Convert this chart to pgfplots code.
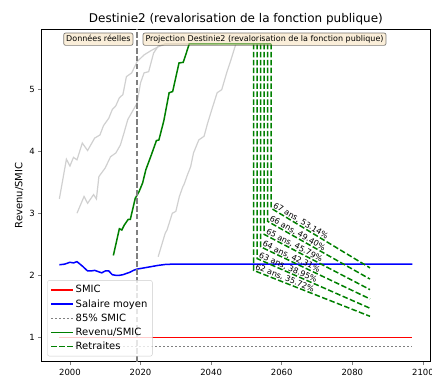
\documentclass[border=0pt]{standalone}
\usepackage{fontspec}
\setmainfont{DejaVu Sans}
\usepackage{pgfplots}
\pgfplotsset{compat=1.18}
\definecolor{wheat}{HTML}{F5DEB3}
\definecolor{mplgreen}{rgb}{0,0.5,0}
\definecolor{mplred}{rgb}{1,0,0}
\definecolor{mplblue}{rgb}{0,0,1}
\definecolor{lgrey}{HTML}{D0D0D0}
\definecolor{mplgrey}{HTML}{808080}
\newcommand{\ticksize}{\fontsize{8.5}{10}\selectfont}
\newcommand{\labsize}{\fontsize{10}{12}\selectfont}
\newcommand{\titlesize}{\fontsize{12}{14}\selectfont}
\newcommand{\annsize}{\fontsize{8}{9.6}\selectfont}
\tikzset{tbox/.style={font=\annsize, draw=black, draw opacity=0.5, fill=wheat, fill opacity=0.5,
  text opacity=1, rounded corners=2pt, line width=0.7pt, inner xsep=2.5pt, inner ysep=2.3pt,
  text height=6pt, text depth=1.8pt}}
\pgfplotsset{
  smicline/.style={draw=mplred, color=mplred, line width=1.5pt},
  salaire/.style={draw=mplblue, line width=1.5pt},
  pct/.style={draw=mplgrey, line width=1.5pt, dash pattern=on 1.5pt off 2.5pt},
  revenu/.style={draw=mplgreen, line width=1.5pt},
  retraite/.style={draw=mplgreen, line width=1.5pt, dash pattern=on 5.5pt off 2.4pt},
}
\begin{document}
\begin{tikzpicture}
\begin{axis}[
  scale only axis, width=388.3pt, height=332.7pt,
  xmin=1992, xmax=2102, ymin=0.609, ymax=5.967,
  xtick={2000,2020,...,2100}, ytick={1,2,3,4,5},
  xtick pos=bottom, ytick pos=left,
  tick align=outside, major tick length=3.5pt,
  tick style={line width=0.6pt}, axis line style={line width=0.6pt},
  /pgf/number format/assume math mode=true,
  /pgf/number format/1000 sep={},
  ticklabel style={font=\ticksize},
  title={Destinie2 (revalorisation de la fonction publique)},
  every axis title/.style={at={(0.5,1)}, anchor=base, yshift=6.3pt, font=\titlesize},
  ylabel={Revenu/SMIC},
  ylabel style={font=\labsize, at={(axis description cs:-0.058,0.5)}, anchor=center},
  clip mode=individual,
  legend cell align=left,
  legend image code/.code={\draw[#1] (0pt,0pt) -- (21.7pt,0pt);},
  legend style={at={(axis description cs:0.0144,0.016)}, anchor=south west,
    draw=black!20, fill=white, fill opacity=0.8, text opacity=1, rounded corners=2pt,
    font=\labsize, inner xsep=3pt, inner ysep=3pt, row sep=1.2pt},
]
\addlegendimage{smicline}
\addlegendentry{SMIC}
\addlegendimage{salaire}
\addlegendentry{Salaire moyen}
\addlegendimage{pct}
\addlegendentry{85\% SMIC}
\addlegendimage{revenu}
\addlegendentry{Revenu/SMIC}
\addlegendimage{retraite}
\addlegendentry{Retraites}

% autres generations
\addplot[draw=lgrey, line width=1.2pt, forget plot] coordinates {
  (1997,3.23) (1999,3.87) (2000,3.76) (2001,3.90) (2002,3.86) (2003.5,4.13) (2005,4.01)
  (2007,4.21) (2008.5,4.26) (2009.5,4.41) (2011,4.53) (2012,4.67) (2013,4.73) (2014,4.86)
  (2015,4.91) (2016,5.20) (2017.5,5.26) (2019,5.44) (2021,5.55) (2023,5.62) (2025,5.68)
  (2027,5.726) (2037,5.726)
};
\addplot[draw=lgrey, line width=1.2pt, forget plot] coordinates {
  (2002,3.00) (2004,3.27) (2005,3.16) (2006.7,3.30) (2007.5,3.23) (2008.2,3.59) (2010,3.73)
  (2011.5,3.91) (2013,3.97) (2014.3,4.10) (2015.3,4.29) (2016.4,4.51) (2018,4.67) (2019,4.77)
  (2020,5.10) (2021,5.26) (2022.3,5.28) (2023.7,5.58) (2025,5.69) (2027,5.726) (2042,5.726)
};
\addplot[draw=lgrey, line width=1.2pt, forget plot] coordinates {
  (2025,2.30) (2027,2.68) (2027.5,2.73) (2029,3.00) (2030,3.03) (2031,3.27) (2032,3.43)
  (2032.3,3.46) (2033.3,3.62) (2034.2,3.75) (2035,3.97) (2036.5,4.18) (2038,4.24) (2039,4.45)
  (2040.3,4.69) (2041.7,4.94) (2043,4.99) (2044.5,5.28) (2045.5,5.45) (2047,5.726) (2052,5.726)
};

% 85% SMIC
\addplot[pct, forget plot] coordinates {(1997,0.85) (2097,0.85)};
% Salaire moyen
\addplot[salaire, forget plot] coordinates {
  (1997,2.17) (1998.5,2.18) (2000,2.21) (2001,2.20) (2002,2.22) (2003.5,2.15) (2005,2.07)
  (2006,2.07) (2007,2.08) (2008,2.06) (2009,2.04) (2010,2.07) (2011,2.07) (2012,2.01)
  (2013,2.00) (2014,2.00) (2015,2.01) (2016,2.03) (2017,2.05) (2018,2.08) (2019,2.10)
  (2021,2.12) (2023,2.14) (2025,2.16) (2027,2.175) (2029,2.18) (2097,2.18)
};
% Revenu/SMIC
\addplot[revenu, forget plot] coordinates {
  (2012.3,2.32) (2014,2.75) (2014.7,2.73) (2015.4,2.81) (2016.5,2.90) (2017.1,2.90)
  (2018.5,3.24) (2019.6,3.35) (2020.6,3.49) (2021.5,3.70) (2023,3.93) (2024.5,4.17)
  (2025.2,4.18) (2026.6,4.49) (2028.1,4.94) (2029.1,4.96) (2030.9,5.42) (2032.1,5.43)
  (2033.8,5.726) (2057,5.726)
};
% Retraites
\addplot[retraite, forget plot] coordinates {(2052,5.726) (2052,2.08) (2085,1.34)};
\addplot[retraite, forget plot] coordinates {(2053,5.726) (2053,2.27) (2085,1.47)};
\addplot[retraite, forget plot] coordinates {(2054,5.726) (2054,2.46) (2085,1.62)};
\addplot[retraite, forget plot] coordinates {(2055,5.726) (2055,2.66) (2085,1.77)};
\addplot[retraite, forget plot] coordinates {(2056,5.726) (2056,2.87) (2085,1.94)};
\addplot[retraite, forget plot] coordinates {(2057,5.726) (2057,3.08) (2085,2.12)};

% separation donnees / projection
\addplot[draw=mplgrey, line width=1.5pt, dash pattern=on 5.5pt off 2.4pt, forget plot] coordinates {(2019,0.609) (2019,5.967)};

% SMIC
\addplot[smicline, forget plot] coordinates {(1997,1) (2097,1)};

\node[font=\annsize, rotate=-21.5, anchor=south west, inner sep=0.6pt] at (axis cs:2052,2.08) {62 ans, 35.72\%};
\node[font=\annsize, rotate=-23.7, anchor=south west, inner sep=0.6pt] at (axis cs:2053,2.27) {63 ans, 38.95\%};
\node[font=\annsize, rotate=-25.5, anchor=south west, inner sep=0.6pt] at (axis cs:2054,2.46) {64 ans, 42.31\%};
\node[font=\annsize, rotate=-27.6, anchor=south west, inner sep=0.6pt] at (axis cs:2055,2.66) {65 ans, 45.79\%};
\node[font=\annsize, rotate=-29.4, anchor=south west, inner sep=0.6pt] at (axis cs:2056,2.87) {66 ans, 49.40\%};
\node[font=\annsize, rotate=-31.1, anchor=south west, inner sep=0.6pt] at (axis cs:2057,3.08) {67 ans, 53.14\%};

\node[tbox, anchor=east] at (axis cs:2017.95,5.803) {Données réelles};
\node[tbox, anchor=west] at (axis cs:2020.6,5.803) {Projection Destinie2 (revalorisation de la fonction publique)};
\end{axis}
\pgfresetboundingbox
\path (-41.7pt,-16pt) rectangle (390.3pt,361.7pt);
\end{tikzpicture}
\end{document}
